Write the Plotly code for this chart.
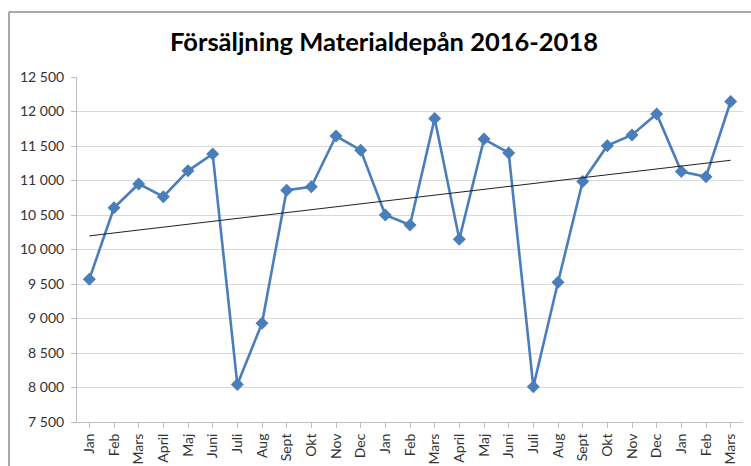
import numpy as np
import plotly.graph_objects as go

months = ["Jan", "Feb", "Mars", "April", "Maj", "Juni", "Juli", "Aug", "Sept", "Okt", "Nov", "Dec",
          "Jan", "Feb", "Mars", "April", "Maj", "Juni", "Juli", "Aug", "Sept", "Okt", "Nov", "Dec",
          "Jan", "Feb", "Mars"]
sales = [9570, 10605, 10950, 10765, 11140, 11385, 8045, 8930, 10860, 10910, 11645, 11440,
         10500, 10355, 11900, 10150, 11600, 11400, 8010, 9525, 10985, 11505, 11660, 11965,
         11130, 11055, 12145]
y_ticks = [7500, 8000, 8500, 9000, 9500, 10000, 10500, 11000, 11500, 12000, 12500]
title_text = "Försäljning Materialdepån 2016-2018"

idx = np.arange(len(sales))
slope, intercept = np.polyfit(idx, sales, 1)
trend = slope * idx + intercept

fig = go.Figure()
fig.add_trace(go.Scatter(
    x=idx, y=sales, mode="lines+markers",
    line=dict(color="#4a7ebb", width=2.6),
    marker=dict(symbol="diamond", size=10, color="#4a7ebb"),
    showlegend=False, cliponaxis=False,
))
fig.add_trace(go.Scatter(
    x=idx, y=trend, mode="lines",
    line=dict(color="#222222", width=1),
    showlegend=False,
))

L, R, T, B = 77, 8, 77, 44
W, H = 751, 466
pw, ph = W - L - R, H - T - B

def px(xp):
    return (xp - L) / pw

def py(yp):
    return (H - B - yp) / ph

fig.update_layout(
    width=W, height=H,
    margin=dict(l=L, r=R, t=T, b=B, autoexpand=False),
    paper_bgcolor="white", plot_bgcolor="white",
    separators=", ",
    font=dict(family="Lato, 'Open Sans', sans-serif", color="#404040"),
    title=dict(text="<b>" + title_text + "</b>", x=384 / W, xanchor="center",
               y=1 - 42 / H, yanchor="middle", xref="container", yref="container",
               font=dict(size=25.5, color="#000000", family="Lato, 'Open Sans', sans-serif")),
    xaxis=dict(
        tickmode="array", tickvals=list(idx), ticktext=months,
        range=[-0.5, len(sales) - 0.5], automargin=False,
        tickangle=-90, tickfont=dict(size=14, color="#333333"),
        showgrid=False, showline=True, linecolor="#bfbfbf", linewidth=1,
        ticks="outside", ticklen=5, tickcolor="#bfbfbf",
        tickson="boundaries", zeroline=False,
    ),
    yaxis=dict(
        range=[7500, 12500], tickmode="array", tickvals=y_ticks, automargin=False,
        tickformat=",d", separatethousands=True,
        tickfont=dict(size=14, color="#333333"), ticklabelstandoff=4,
        showgrid=True, gridcolor="#d9d9d9", gridwidth=1,
        showline=True, linecolor="#bfbfbf", linewidth=1,
        ticks="outside", ticklen=5, tickcolor="#bfbfbf", zeroline=False,
    ),
    shapes=[
        dict(type="line", xref="paper", yref="paper", x0=px(9), x1=px(W + 5), y0=py(12), y1=py(12),
             line=dict(color="#8c8c8c", width=1.5)),
        dict(type="line", xref="paper", yref="paper", x0=px(9), x1=px(9), y0=py(12), y1=py(H + 5),
             line=dict(color="#8c8c8c", width=1.5)),
    ],
)

fig.write_html("out.html", config={"displayModeBar": False},
               post_script="document.body.style.margin='0';document.body.style.overflow='hidden';")
